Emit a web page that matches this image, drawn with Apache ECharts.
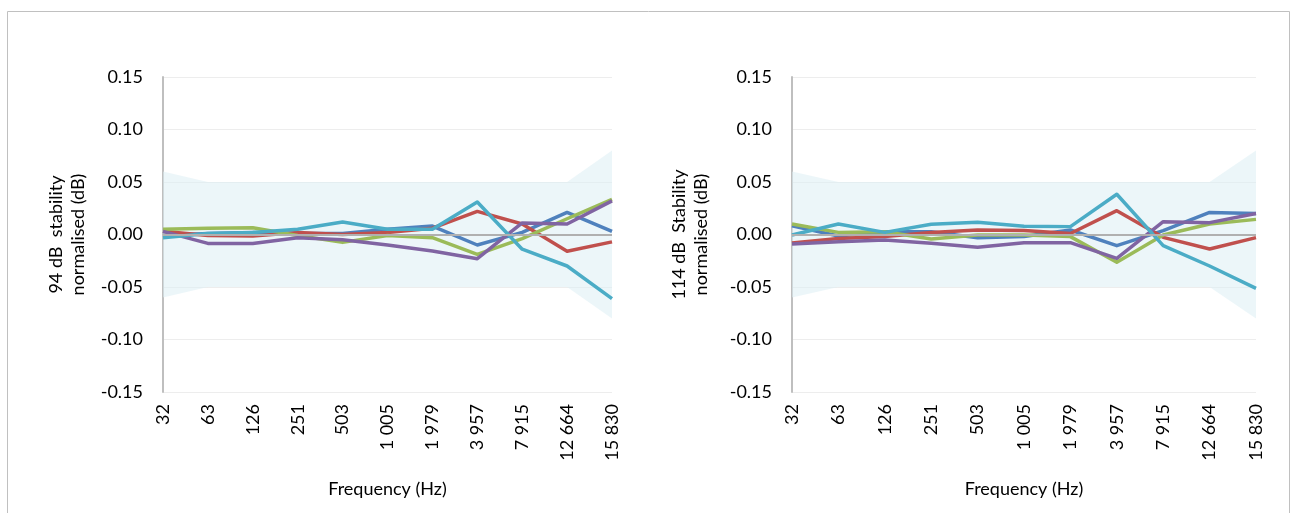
<!DOCTYPE html>
<html><head><meta charset="utf-8">
<script src="https://cdn.jsdelivr.net/npm/echarts@6/dist/echarts.min.js"></script>
<style>html,body{margin:0;padding:0;background:#fff}#c{width:1295px;height:513px}</style>
</head><body><div id="c"></div><script>
const categories = ['32','63','126','251','503','1 005','1 979','3 957','7 915','12 664','15 830'];
const tolUpper = [0.06,0.05,0.05,0.05,0.05,0.05,0.05,0.05,0.05,0.05,0.08];
const tolLower = [-0.06,-0.05,-0.05,-0.05,-0.05,-0.05,-0.05,-0.05,-0.05,-0.05,-0.08];
const seriesNames = ['Series 1','Series 2','Series 3','Series 4','Series 5'];
const seriesColors = ['#4F81BD','#C0504D','#9BBB59','#8064A2','#4BACC6'];

// 94 dB stability (left chart)
const blue94   = [-0.001, 0.001, 0.002, 0.001, 0.001, 0.005, 0.008, -0.010, 0.002, 0.021, 0.003];
const red94    = [0.003, -0.001, -0.0015, 0.002, 0.000, 0.002, 0.006, 0.022, 0.010, -0.016, -0.007];
const green94  = [0.005, 0.006, 0.0065, -0.001, -0.0075, -0.001, -0.003, -0.019, -0.004, 0.015, 0.0335];
const purple94 = [0.003, -0.0085, -0.0085, -0.003, -0.005, -0.010, -0.0157, -0.023, 0.011, 0.010, 0.032];
const teal94   = [-0.003, 0.001, 0.002, 0.005, 0.012, 0.005, 0.005, 0.031, -0.014, -0.030, -0.061];

// 114 dB stability (right chart)
const blue114   = [0.0084, -0.0014, 0.0027, 0.0027, -0.003, -0.002, 0.0043, -0.0106, 0.0037, 0.021, 0.020];
const red114    = [-0.008, -0.0037, -0.002, 0.002, 0.0043, 0.0037, 0.001, 0.0227, -0.0027, -0.0138, -0.003];
const green114  = [0.010, 0.002, 0.0027, -0.0043, -0.0005, -0.0005, -0.002, -0.0265, -0.0005, 0.010, 0.0144];
const purple114 = [-0.009, -0.0068, -0.0052, -0.0084, -0.0122, -0.0078, -0.0078, -0.0227, 0.0122, 0.0113, 0.020];
const teal114   = [-0.0005, 0.010, 0.002, 0.0097, 0.0116, 0.0078, 0.0075, 0.0383, -0.0106, -0.030, -0.0513];

const yTitles = ['94 dB  stability\nnormalised (dB)', '114 dB  Stability\nnormalised (dB)'];
const xTitle = 'Frequency (Hz)';

const FONT = 'Lato';
const chart = echarts.init(document.getElementById('c'), null, {renderer:'canvas'});

function xAxisFor(i){
  return {
    type:'category', gridIndex:i, data:categories, boundaryGap:false,
    axisLine:{show:false}, axisTick:{show:false},
    axisLabel:{rotate:90, margin:12, color:'#000', fontFamily:FONT, fontSize:18},
    splitLine:{show:false},
    name:xTitle, nameLocation:'middle', nameGap:88,
    nameTextStyle:{color:'#000', fontFamily:FONT, fontSize:18}
  };
}
function yAxisFor(i, gap){
  return {
    type:'value', gridIndex:i, min:-0.15, max:0.15, interval:0.05,
    axisLine:{show:true, lineStyle:{color:'#BFBFBF', width:2}},
    axisTick:{show:false},
    axisLabel:{margin:20, color:'#000', fontFamily:FONT, fontSize:18,
      formatter: v => (Math.abs(v) < 1e-9 ? 0 : v).toFixed(2)},
    splitLine:{show:true, lineStyle:{color:'#EDEDED', width:1}},
    name:yTitles[i], nameLocation:'middle', nameGap:gap,
    nameTextStyle:{color:'#000', fontFamily:FONT, fontSize:18, lineHeight:22, align:'center'}
  };
}
function bandSeries(i, data, withZero){
  const s = {
    type:'line', xAxisIndex:i, yAxisIndex:i, data:data, showSymbol:false, silent:true,
    lineStyle:{width:0}, itemStyle:{color:'#DCEEF4'},
    areaStyle:{color:'#DCEEF4', opacity:0.55, origin:0}, z:1
  };
  if (withZero) {
    s.markLine = {silent:true, symbol:'none', label:{show:false},
      lineStyle:{color:'#B0B0B0', width:2, type:'solid'}, data:[{yAxis:0}]};
  }
  return s;
}
function lineSeries(i, name, data, color){
  return {
    type:'line', name:name, xAxisIndex:i, yAxisIndex:i, data:data, showSymbol:false,
    lineStyle:{color:color, width:3.5, join:'round'}, itemStyle:{color:color}, z:3
  };
}
const leftData = [blue94, red94, green94, purple94, teal94];
const rightData = [blue114, red114, green114, purple114, teal114];
const series = [
  bandSeries(0, tolUpper, true), bandSeries(0, tolLower, false),
  bandSeries(1, tolUpper, true), bandSeries(1, tolLower, false)
];
leftData.forEach((d,k)=>series.push(lineSeries(0, seriesNames[k], d, seriesColors[k])));
rightData.forEach((d,k)=>series.push(lineSeries(1, seriesNames[k], d, seriesColors[k])));

chart.setOption({
  animation:false,
  backgroundColor:'#fff',
  graphic:[{type:'rect', shape:{x:7.5, y:11.5, width:1282, height:520}, style:{fill:'none', stroke:'#C0C0C0', lineWidth:1}, silent:true, z:0}],
  grid:[
    {left:163, top:77, width:449, height:315},
    {left:792, top:77, width:464, height:315}
  ],
  xAxis:[xAxisFor(0), xAxisFor(1)],
  yAxis:[yAxisFor(0, 74), yAxisFor(1, 80)],
  series:series
});
</script></body></html>
